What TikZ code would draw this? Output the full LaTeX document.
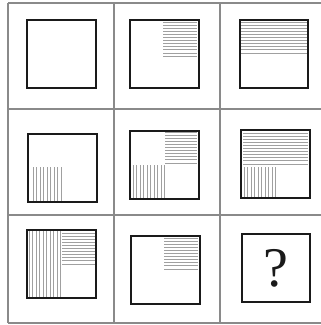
\documentclass[tikz,border=0pt]{standalone}
\usepackage{fontspec}
\usepackage{tikz}
\usetikzlibrary{positioning}
\newfontfamily\askfont{Liberation Serif}
\definecolor{ink}{HTML}{1A1A1A}
\definecolor{gridgray}{HTML}{8A8A8A}
\definecolor{hatchgray}{HTML}{A0A0A0}
\tikzset{
  gridline/.style={draw=gridgray, line width=0.8pt},
  cellbox/.style={draw=ink, line width=1.5pt},
  hatch/.style={draw=hatchgray, line width=0.65pt},
  askmark/.style={font=\askfont\fontsize{42}{42}\selectfont, text=ink, inner sep=0pt}
}
% horizontal hatch: x1, x2, first y, number of lines
\newcommand{\hhatch}[4]{%
  \foreach \i in {1,...,#4} \draw[hatch] (#1,{#3+(\i-1)*3.1}) -- (#2,{#3+(\i-1)*3.1});}
% vertical hatch: first x, number of lines, y1, y2
\newcommand{\vhatch}[4]{%
  \foreach \i in {1,...,#2} \draw[hatch] ({#1+(\i-1)*3.5},#3) -- ({#1+(\i-1)*3.5},#4);}

\begin{document}
\begin{tikzpicture}[x=0.75pt,y=-0.75pt]
  \useasboundingbox[fill=white] (0,0) rectangle (321,325);

  % grid
  \foreach \gx in {8,114,220} \draw[gridline] (\gx,3) -- (\gx,323);
  \foreach \gy in {3,109,215,323} \draw[gridline] (8,\gy) -- (321,\gy);

  % row 1
  \hhatch{163}{197}{22}{12}
  \hhatch{241}{307}{22}{11}
  \draw[cellbox] (27,20) rectangle (96,88);
  \draw[cellbox] (130,20) rectangle (199,88);
  \draw[cellbox] (240,20) rectangle (308,88);

  % row 2
  \vhatch{33}{9}{167}{201}
  \hhatch{165}{197}{132}{11}
  \vhatch{133}{10}{165}{198}
  \hhatch{243}{308}{133}{11}
  \vhatch{244}{10}{167}{197}
  \draw[cellbox] (28,134) rectangle (97,202);
  \draw[cellbox] (130,131) rectangle (199,199);
  \draw[cellbox] (241,130) rectangle (310,198);

  % row 3
  \vhatch{29}{10}{231}{297}
  \hhatch{62}{95}{233}{11}
  \hhatch{164}{198}{238}{11}
  \draw[cellbox] (27,230) rectangle (96,298);
  \draw[cellbox] (131,236) rectangle (200,304);
  \draw[cellbox] (242,234) rectangle (310,302);

  \node[askmark] (ask) at (276,268) {?};
\end{tikzpicture}
\end{document}
